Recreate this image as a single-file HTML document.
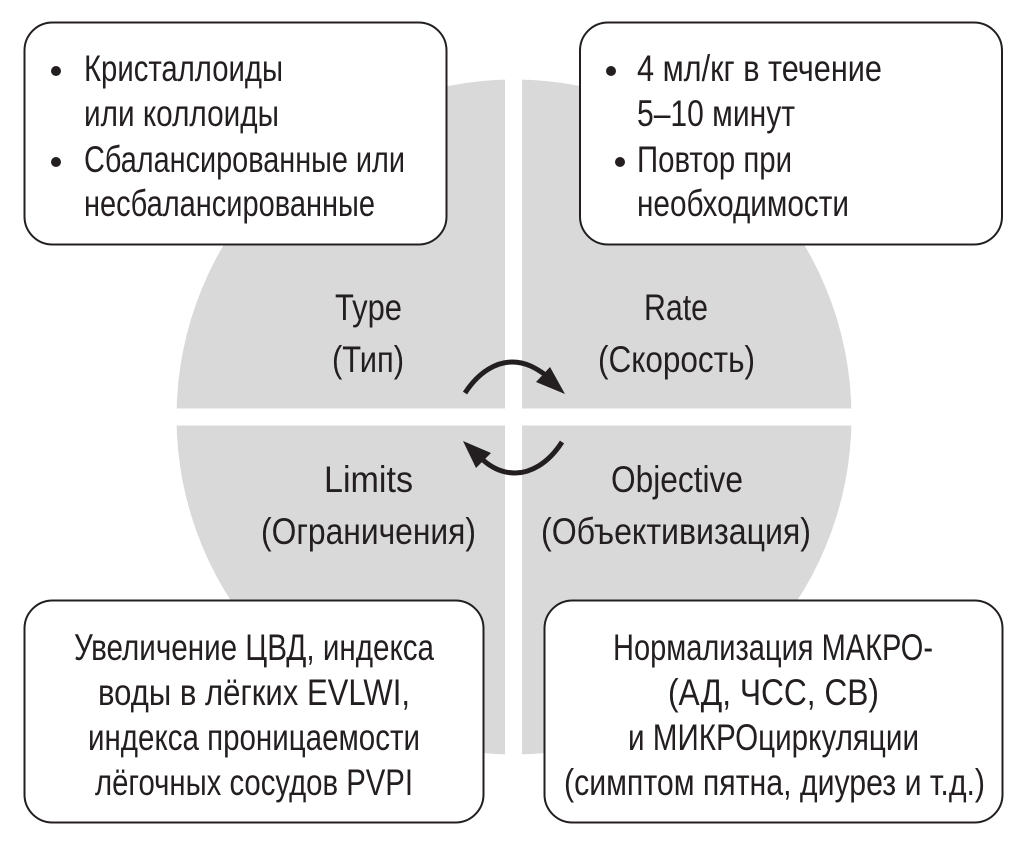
<!DOCTYPE html>
<html><head><meta charset="utf-8"><style>
html,body{margin:0;padding:0;background:#fff;width:1026px;height:844px;overflow:hidden}
svg{display:block}
text{font-family:"Liberation Sans Narrow","Liberation Sans","DejaVu Sans",sans-serif;font-size:37px;fill:#231f20}
</style></head><body>
<svg width="1026" height="844" viewBox="0 0 1026 844" xmlns="http://www.w3.org/2000/svg">
<rect width="1026" height="844" fill="#fff"/>
<circle cx="514" cy="417" r="337.5" fill="#d9d9d9"/>
<rect x="505" y="70" width="17" height="700" fill="#fff"/>
<rect x="165" y="408.500" width="700" height="17" fill="#fff"/>
<g fill="#fff" stroke="#231f20" stroke-width="2">
<rect x="24.500" y="22.500" width="422" height="222" rx="28"/>
<rect x="580" y="22.500" width="422" height="222" rx="28"/>
<rect x="24.500" y="600.500" width="459" height="222" rx="28"/>
<rect x="544.500" y="600.500" width="458" height="222" rx="28"/>
</g>
<g fill="#231f20">
<circle cx="56" cy="71" r="5"/><circle cx="56" cy="162" r="5"/>
<circle cx="611" cy="71" r="5"/><circle cx="620" cy="162" r="5"/>
</g>
<g>
<text x="84" y="81" textLength="199" lengthAdjust="spacingAndGlyphs">Кристаллоиды</text>
<text x="84" y="126" textLength="195" lengthAdjust="spacingAndGlyphs">или коллоиды</text>
<text x="84" y="172" textLength="321" lengthAdjust="spacingAndGlyphs">Сбалансированные или</text>
<text x="84" y="216" textLength="291" lengthAdjust="spacingAndGlyphs">несбалансированные</text>
<text x="637" y="81" textLength="245" lengthAdjust="spacingAndGlyphs">4 мл/кг в течение</text>
<text x="637" y="126" textLength="158" lengthAdjust="spacingAndGlyphs">5–10 минут</text>
<text x="637" y="172" textLength="155" lengthAdjust="spacingAndGlyphs">Повтор при</text>
<text x="637" y="216" textLength="212" lengthAdjust="spacingAndGlyphs">необходимости</text>
<text x="335" y="320" textLength="67" lengthAdjust="spacingAndGlyphs">Type</text>
<text x="332" y="372" textLength="72" lengthAdjust="spacingAndGlyphs">(Тип)</text>
<text x="644" y="320" textLength="64" lengthAdjust="spacingAndGlyphs">Rate</text>
<text x="598" y="372" textLength="157" lengthAdjust="spacingAndGlyphs">(Скорость)</text>
<text x="324" y="492" textLength="89" lengthAdjust="spacingAndGlyphs">Limits</text>
<text x="261" y="544" textLength="215" lengthAdjust="spacingAndGlyphs">(Ограничения)</text>
<text x="611" y="492" textLength="132" lengthAdjust="spacingAndGlyphs">Objective</text>
<text x="541" y="544" textLength="270" lengthAdjust="spacingAndGlyphs">(Объективизация)</text>
<text x="74" y="660" textLength="360" lengthAdjust="spacingAndGlyphs">Увеличение ЦВД, индекса</text>
<text x="98" y="705" textLength="312" lengthAdjust="spacingAndGlyphs">воды в лёгких EVLWI,</text>
<text x="88" y="750" textLength="332" lengthAdjust="spacingAndGlyphs">индекса проницаемости</text>
<text x="95" y="795" textLength="318" lengthAdjust="spacingAndGlyphs">лёгочных сосудов PVPI</text>
<text x="613" y="660" textLength="320" lengthAdjust="spacingAndGlyphs">Нормализация МАКРО-</text>
<text x="668" y="705" textLength="211" lengthAdjust="spacingAndGlyphs">(АД, ЧСС, СВ)</text>
<text x="628" y="750" textLength="291" lengthAdjust="spacingAndGlyphs">и МИКРОциркуляции</text>
<text x="564" y="795" textLength="421" lengthAdjust="spacingAndGlyphs">(симптом пятна, диурез и т.д.)</text>
</g>
<path d="M465 393 C480 370 498 362 512 362 C526 362 536 368 547 376" fill="none" stroke="#231f20" stroke-width="5"/>
<polygon points="565,394 536,382 550,367" fill="#231f20"/>
<path d="M562 442 C548 464 530 473 515 473 C502 473 492 468 483 460" fill="none" stroke="#231f20" stroke-width="5"/>
<polygon points="463,441 491,453 476,468" fill="#231f20"/>
</svg>
</body></html>
